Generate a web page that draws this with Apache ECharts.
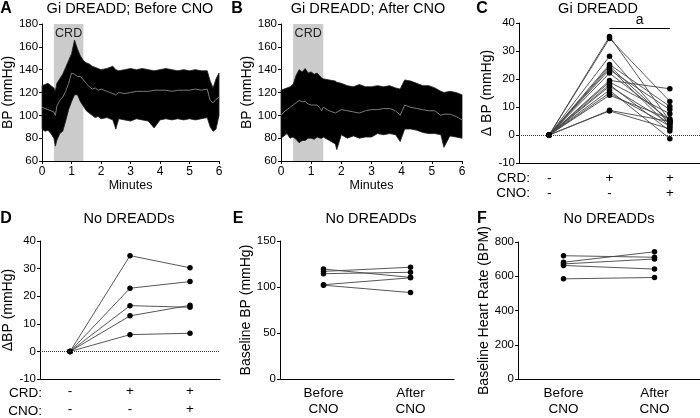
<!DOCTYPE html>
<html lang="en">
<head>
<meta charset="UTF-8">
<title>Gi DREADD BP</title>
<script src="https://cdn.jsdelivr.net/npm/echarts@6/dist/echarts.min.js"></script>
<style>
  html, body { margin: 0; padding: 0; background: #fff; }
  #chart { width: 700px; height: 418px; }
</style>
</head>
<body>
<div id="chart"></div>
<script>
// A - Gi DREADD before CNO: BP trace envelope (minutes, mmHg)
var timeA = [0, 0.1, 0.2, 0.3, 0.4, 0.45, 0.5, 0.6, 0.7, 0.8, 0.9, 1.0, 1.1, 1.2, 1.3, 1.4, 1.5, 1.6, 1.7, 1.8, 1.9, 2.0, 2.2, 2.4, 2.5, 2.6, 2.8, 3.0, 3.2, 3.4, 3.6, 3.8, 4.0, 4.2, 4.4, 4.6, 4.8, 5.0, 5.2, 5.4, 5.6, 5.7, 5.8, 5.9, 6.0];
var topA  = [126, 127, 128, 126, 124, 121, 128, 132, 136, 142, 148, 154, 166, 158, 152, 148, 146, 145, 143, 142, 141, 140, 141, 143, 140, 139, 140, 141, 140, 141, 140, 139, 140, 141, 140, 139, 140, 139, 140, 139, 139, 130, 124, 132, 137];
var lowA  = [88, 86, 87, 84, 80, 73, 78, 84, 86, 95, 105, 112, 118, 118, 112, 108, 104, 102, 100, 98, 99, 97, 98, 96, 88, 97, 96, 95, 97, 96, 95, 89, 96, 97, 96, 97, 96, 97, 96, 97, 98, 90, 86, 88, 100];
var meanA = [107, 106, 105, 104, 103, 100, 108, 113, 116, 121, 128, 137, 136, 134, 134, 131, 128, 125, 123, 124, 122, 123, 121, 119, 118, 120, 119, 120, 121, 121, 121, 122, 122, 122, 121, 122, 122, 122, 123, 122, 123, 113, 111, 114, 116];

// B - Gi DREADD after CNO
var timeB = [0, 0.1, 0.2, 0.3, 0.4, 0.5, 0.6, 0.7, 0.8, 0.9, 1.0, 1.1, 1.2, 1.3, 1.35, 1.4, 1.6, 1.8, 1.85, 2.0, 2.2, 2.4, 2.6, 2.8, 3.0, 3.2, 3.4, 3.6, 3.8, 3.95, 4.1, 4.3, 4.5, 4.7, 4.9, 5.1, 5.3, 5.4, 5.6, 5.8, 6.0];
var topB  = [122, 123, 124, 125, 127, 135, 140, 138, 141, 137, 138, 136, 137, 134, 133, 132, 131, 130, 129, 128, 126, 125, 127, 125, 125, 126, 125, 126, 124, 123, 131, 130, 128, 126, 126, 124, 121, 120, 121, 120, 118];
var lowB  = [80, 82, 84, 80, 81, 79, 76, 78, 78, 80, 80, 79, 81, 80, 80, 81, 78, 75, 70, 83, 80, 82, 80, 81, 81, 84, 83, 84, 83, 77, 88, 88, 87, 85, 84, 84, 83, 72, 82, 81, 80];
var meanB = [100, 103, 105, 107, 109, 111, 113, 112, 112, 110, 109, 109, 109, 106, 104, 107, 104, 102, 102, 105, 104, 103, 102, 104, 105, 105, 106, 106, 104, 100, 109, 107, 106, 105, 104, 104, 100, 101, 101, 99, 96];

var crdStart = 0.4, crdEnd = 1.4;

// C - Gi DREADD, delta BP per animal
var crdRow = ['-', '+', '+'];
var cnoRow = ['-', '-', '+'];
var cNone   = [0, 0, 0, 0, 0, 0, 0, 0, 0, 0, 0, 0, 0, 0, 0, 0, 0];
var cCrd    = [35.2, 34.5, 28.1, 25.2, 24.6, 24.0, 23.3, 22.1, 19.5, 18.9, 18.0, 17.4, 16.0, 15.0, 14.2, 8.8, 8.6];
var cCrdCno = [5.0, 12.0, 3.8, 10.2, 4.6, 2.9, 9.1, 5.3, 16.5, 7.6, 1.4, 4.2, -1.3, 3.2, 5.8, 4.8, 2.2];

// D - No DREADDs, delta BP
var dNone   = [0, 0, 0, 0, 0];
var dCrd    = [34.7, 22.9, 16.6, 12.9, 6.1];
var dCrdCno = [30.3, 25.3, 16.0, 16.7, 6.6];

// E - baseline BP, F - baseline heart rate
var prePost = ['Before\nCNO', 'After\nCNO'];
var eBefore = [119.5, 117, 114.5, 102.5, 102];
var eAfter  = [110.5, 121.5, 116, 110, 94];
var fBefore = [720, 682, 672, 663, 585];
var fAfter  = [711, 743, 701, 642, 593];

var FONT = 'Liberation Sans';
var chart = echarts.init(document.getElementById('chart'));

function yAx(grid, min, max, step, name, gap) {
  return {
    type: 'value', gridIndex: grid, min: min, max: max, interval: step,
    name: name, nameLocation: 'middle', nameGap: gap,
    nameTextStyle: { color: '#000', fontSize: 14, fontFamily: FONT },
    axisLine: { show: true, lineStyle: { color: '#000', width: 1 } },
    axisTick: { show: true, length: 3, lineStyle: { color: '#000' } },
    axisLabel: { color: '#000', fontSize: 11.5, fontFamily: FONT, margin: 4 },
    splitLine: { show: false }
  };
}
function xTime(grid) {
  return {
    type: 'value', gridIndex: grid, min: 0, max: 6, interval: 1,
    name: 'Minutes', nameLocation: 'middle', nameGap: 18,
    nameTextStyle: { color: '#000', fontSize: 12.5, fontFamily: FONT },
    axisLine: { lineStyle: { color: '#000', width: 1 } },
    axisTick: { length: 3, lineStyle: { color: '#000' } },
    axisLabel: { color: '#000', fontSize: 12, fontFamily: FONT, margin: 5 },
    splitLine: { show: false }
  };
}
function xCat(grid, cats, margin, lh) {
  return {
    type: 'category', gridIndex: grid, data: cats,
    axisLine: { onZero: false, lineStyle: { color: '#000', width: 1 } },
    axisTick: { show: false },
    axisLabel: { color: '#000', fontSize: 13.5, fontFamily: FONT, margin: margin, lineHeight: lh, interval: 0 },
    splitLine: { show: false }
  };
}

// trace: CRD shading, black min/max band (one polygon), grey mean line
function traceSeries(idx, time, top, low, mean) {
  var rows = time.map(function (t, i) { return [t, low[i], top[i]]; });
  return [
    { type: 'line', xAxisIndex: idx, yAxisIndex: idx, data: [], z: 1, silent: true,
      markArea: { silent: true, itemStyle: { color: '#cbcbcb' },
        label: { show: true, position: 'insideTop', color: '#222', fontSize: 12.5, fontFamily: FONT, distance: 3 },
        data: [[{ name: 'CRD', xAxis: crdStart }, { xAxis: crdEnd }]] } },
    { type: 'custom', coordinateSystem: 'cartesian2d', xAxisIndex: idx, yAxisIndex: idx,
      z: 3, silent: true, data: rows, encode: { x: 0, y: [1, 2] },
      renderItem: function (params, api) {
        if (params.dataIndex !== 0) return null;
        var upper = rows.map(function (r) { return api.coord([r[0], r[2]]); });
        var lower = rows.map(function (r) { return api.coord([r[0], r[1]]); }).reverse();
        return { type: 'polygon', shape: { points: upper.concat(lower) },
          style: { fill: '#000', stroke: '#1a1a1a', lineWidth: 0.8 } };
      } },
    { type: 'line', xAxisIndex: idx, yAxisIndex: idx, symbol: 'none', z: 4, silent: true,
      data: time.map(function (t, i) { return [t, mean[i]]; }),
      lineStyle: { color: '#7a7a7a', width: 1 } }
  ];
}

function pairSeries(idx, cols, extra) {
  var out = [];
  for (var i = 0; i < cols[0].length; i++) {
    var s = {
      type: 'line', xAxisIndex: idx, yAxisIndex: idx, silent: true,
      symbol: 'circle', symbolSize: 5.5, z: 3,
      itemStyle: { color: '#000' },
      lineStyle: { color: '#444', width: 0.9 },
      data: cols.map(function (c) { return c[i]; })
    };
    if (i === 0 && extra) Object.assign(s, extra);
    out.push(s);
  }
  return out;
}

var zeroLine = { silent: true, symbol: 'none', label: { show: false },
  lineStyle: { type: 'dotted', color: '#333', width: 1 }, data: [{ yAxis: 0 }] };

var cMarks = {
  markLine: { silent: true, symbol: 'none', animation: false,
    lineStyle: { type: 'solid', color: '#000', width: 1 },
    data: [
      { yAxis: 0, lineStyle: { type: 'dotted', color: '#333' }, label: { show: false } },
      [{ coord: [1, 38], label: { show: true, formatter: 'a', position: 'insideMiddleTop', color: '#000', fontSize: 14, fontFamily: FONT, distance: 1 } }, { coord: [2, 38] }]
    ] }
};

var catCD = crdRow.map(function (v, i) { return v + '\n' + cnoRow[i]; });

function txt(text, x, y, size, bold, align) {
  return { type: 'text', x: x, y: y, silent: true,
    style: { text: text, fill: '#000', font: (bold ? 'bold ' : '') + size + 'px "' + FONT + '"',
      textAlign: align || 'center', textVerticalAlign: 'middle', align: align || 'center', verticalAlign: 'middle' } };
}

var option = {
  animation: false,
  backgroundColor: '#fff',
  textStyle: { fontFamily: FONT },
  grid: [
    { left: 39, top: 24, width: 180, height: 137 },
    { left: 281, top: 24, width: 181, height: 137 },
    { left: 519, top: 23, width: 181, height: 140 },
    { left: 40, top: 241, width: 180, height: 140 },
    { left: 280, top: 241, width: 174, height: 140 },
    { left: 518, top: 242, width: 182, height: 140 }
  ],
  xAxis: [
    xTime(0), xTime(1),
    xCat(2, catCD, 7.5, 15),
    xCat(3, catCD, 3.5, 17.7),
    xCat(4, prePost, 5.5, 16.7),
    xCat(5, prePost, 5.5, 16.7)
  ],
  yAxis: [
    yAx(0, 60, 180, 20, 'BP (mmHg)', 24),
    yAx(1, 60, 180, 20, 'BP (mmHg)', 24),
    yAx(2, -10, 40, 10, 'Δ BP (mmHg)', 23),
    yAx(3, -10, 40, 10, 'ΔBP (mmHg)', 24),
    yAx(4, 0, 150, 50, 'Baseline BP (mmHg)', 24),
    yAx(5, 0, 800, 200, 'Baseline Heart Rate (BPM)', 19)
  ],
  graphic: [
    txt('A', 6, 9, 16, true), txt('Gi DREADD; Before CNO', 130, 9, 14.5),
    txt('B', 237, 9, 16, true), txt('Gi DREADD; After CNO', 368, 9, 14.5),
    txt('C', 482, 9, 16, true), txt('Gi DREADD', 598, 9, 14.5),
    txt('D', 6, 219, 16, true), txt('No DREADDs', 129, 219, 14.5),
    txt('E', 238, 219, 16, true), txt('No DREADDs', 371, 219, 14.5),
    txt('F', 482, 219, 16, true), txt('No DREADDs', 609, 219, 14.5),
    txt('CRD:', 530, 178, 13.5, false, 'right'), txt('CNO:', 530, 193, 13.5, false, 'right'),
    txt('CRD:', 42, 393, 13.5, false, 'right'), txt('CNO:', 42, 411, 13.5, false, 'right')
  ],
  series: [].concat(
    traceSeries(0, timeA, topA, lowA, meanA),
    traceSeries(1, timeB, topB, lowB, meanB),
    pairSeries(2, [cNone, cCrd, cCrdCno], cMarks),
    pairSeries(3, [dNone, dCrd, dCrdCno], { markLine: zeroLine }),
    pairSeries(4, [eBefore, eAfter]),
    pairSeries(5, [fBefore, fAfter])
  )
};

chart.setOption(option);
</script>
</body>
</html>
